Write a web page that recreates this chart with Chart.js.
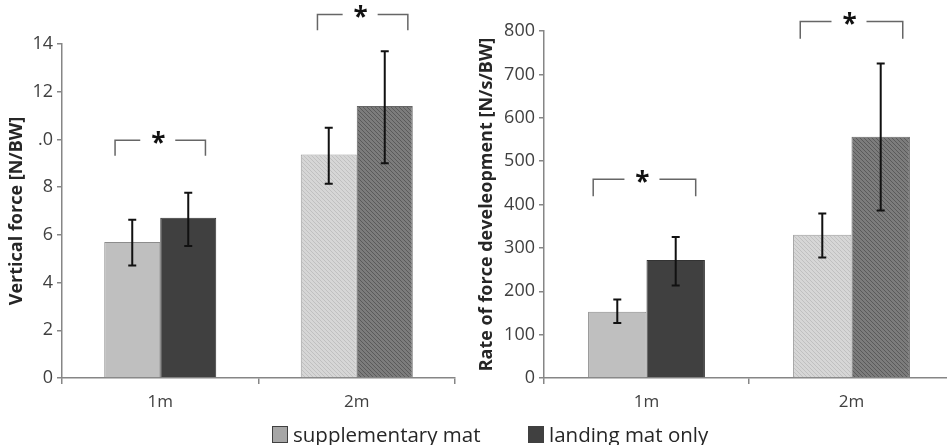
<!DOCTYPE html>
<html>
<head>
<meta charset="utf-8">
<script src="https://cdn.jsdelivr.net/npm/chart.js@4"></script>
<style>
  body { margin: 0; background: #fff; overflow: hidden; width: 947px; height: 445px; position: relative; font-family: "Open Sans", sans-serif; }
  .box { position: absolute; top: 0; height: 445px; }
  #leftBox { left: 0; width: 470px; }
  #rightBox { left: 470px; width: 500px; }
  .leg { position: absolute; top: 423px; display: flex; align-items: center; font-size: 20.5px; color: #262626; line-height: 22px; }
  .sw { width: 16px; height: 17px; border: 1px solid #404040; margin-right: 5px; box-sizing: border-box; }
</style>
</head>
<body>
<div class="box" id="leftBox"><canvas id="forceChart" width="470" height="445"></canvas></div>
<div class="box" id="rightBox"><canvas id="rfdChart" width="500" height="445"></canvas></div>
<div class="leg" style="left:272px"><div class="sw" style="background:#a6a6a6"></div>supplementary mat</div>
<div class="leg" style="left:528px"><div class="sw" style="background:#404040"></div>landing mat only</div>

<script>
const categories = ['1m', '2m'];
const seriesNames = ['supplementary mat', 'landing mat only'];

// vertical force [N/BW]
const forceSupp = [5.7, 9.37];
const forceSuppLow = [4.72, 8.14];
const forceSuppHigh = [6.63, 10.49];
const forceLanding = [6.72, 11.4];
const forceLandingLow = [5.53, 9.0];
const forceLandingHigh = [7.76, 13.7];
const forceTicks = ['0', '2', '4', '6', '8', '.0', '12', '14'];

// rate of force development [N/s/BW]
const rfdSupp = [153, 330];
const rfdSuppLow = [127, 278];
const rfdSuppHigh = [181, 379];
const rfdLanding = [272, 556];
const rfdLandingLow = [213, 386];
const rfdLandingHigh = [325, 725];
const rfdTicks = ['0', '100', '200', '300', '400', '500', '600', '700', '800'];

// significance brackets: category, span (fraction of category width), top and foot in data units
const forceBrackets = [
  { cat: 0, from: -0.23, to: 0.23, top: 9.97, foot: 9.32 },
  { cat: 1, from: -0.2, to: 0.26, top: 15.24, foot: 14.58 },
];
const rfdBrackets = [
  { cat: 0, from: -0.26, to: 0.24, top: 458, foot: 419 },
  { cat: 1, from: -0.25, to: 0.25, top: 822, foot: 782 },
];

const AXIS = '#868686';
const TEXT = '#404040';
const FONT = '"Open Sans"';

function hatch(base, line) {
  const c = document.createElement('canvas');
  c.width = 4; c.height = 4;
  const g = c.getContext('2d');
  g.fillStyle = base; g.fillRect(0, 0, 4, 4);
  g.fillStyle = line;
  for (let i = 0; i < 4; i++) g.fillRect(i, i, 1, 1);
  return g.createPattern(c, 'repeat');
}
const suppHatch = hatch('#d6d6d6', '#c0c0c0');
const landHatch = hatch('#7c7c7c', '#5a5a5a');

const errorBars = {
  id: 'errorBars',
  afterDatasetsDraw(chart, args, opts) {
    const { ctx, scales: { y } } = chart;
    ctx.save();
    ctx.strokeStyle = '#111';
    ctx.lineWidth = 2;
    chart.data.datasets.forEach((ds, di) => {
      chart.getDatasetMeta(di).data.forEach((bar, i) => {
        const lo = y.getPixelForValue(ds.low[i]);
        const hi = y.getPixelForValue(ds.high[i]);
        ctx.beginPath();
        ctx.moveTo(bar.x, lo); ctx.lineTo(bar.x, hi);
        ctx.moveTo(bar.x - 4, lo); ctx.lineTo(bar.x + 4, lo);
        ctx.moveTo(bar.x - 4, hi); ctx.lineTo(bar.x + 4, hi);
        ctx.stroke();
      });
    });
    ctx.restore();
  },
  afterDraw(chart, args, opts) {
    const { ctx, scales: { x, y } } = chart;
    const step = x.getPixelForValue(1) - x.getPixelForValue(0);
    ctx.save();
    (opts.brackets || []).forEach(b => {
      const cx = x.getPixelForValue(b.cat);
      const x1 = cx + b.from * step, x2 = cx + b.to * step;
      const top = y.getPixelForValue(b.top), foot = y.getPixelForValue(b.foot);
      const mid = (x1 + x2) / 2;
      ctx.strokeStyle = '#666';
      ctx.lineWidth = 1.5;
      ctx.beginPath();
      ctx.moveTo(x1, foot); ctx.lineTo(x1, top); ctx.lineTo(mid - 20, top);
      ctx.moveTo(mid + 15, top); ctx.lineTo(x2, top); ctx.lineTo(x2, foot);
      ctx.stroke();
      ctx.fillStyle = '#111';
      ctx.font = 'bold 26px ' + FONT;
      ctx.textAlign = 'center';
      ctx.textBaseline = 'middle';
      ctx.fillText('*', mid - 2, top + 4);
    });
    ctx.restore();
  }
};

function makeChart(id, supp, suppLo, suppHi, land, landLo, landHi, max, step, ticks, title, brackets, yWidth, padTop, padRight) {
  return new Chart(document.getElementById(id), {
    type: 'bar',
    data: {
      labels: categories,
      datasets: [
        { label: seriesNames[0], data: supp, low: suppLo, high: suppHi,
          backgroundColor: ['#bfbfbf', suppHatch], borderColor: ['#8c8c8c', '#9a9a9a'], borderWidth: 1,
          categoryPercentage: 0.57, barPercentage: 1 },
        { label: seriesNames[1], data: land, low: landLo, high: landHi,
          backgroundColor: ['#404040', landHatch], borderColor: ['#333', '#666'], borderWidth: 1,
          categoryPercentage: 0.57, barPercentage: 1 },
      ]
    },
    options: {
      responsive: false,
      animation: false,
      devicePixelRatio: 1,
      layout: { padding: { top: padTop, right: padRight, left: 0, bottom: 0 } },
      plugins: { legend: { display: false }, tooltip: { enabled: false }, errorBars: { brackets } },
      scales: {
        x: {
          grid: { offset: true, drawOnChartArea: false, drawTicks: true, tickLength: 6, color: AXIS, lineWidth: 1.5 },
          border: { color: AXIS, width: 1.5 },
          ticks: { color: TEXT, font: { family: FONT, size: 17 }, padding: 8 },
          afterFit: s => { s.height = 67; }
        },
        y: {
          min: 0, max: max,
          ticks: { stepSize: step, color: TEXT, font: { family: FONT, size: 18 }, padding: 4,
                   callback: (v, i) => ticks[i] },
          grid: { drawOnChartArea: false, tickLength: 5, color: AXIS, lineWidth: 1.5 },
          border: { color: AXIS, width: 1.5 },
          title: { display: true, text: title, color: '#262626', font: { family: FONT, size: 18, weight: 'bold' }, padding: { top: 6, bottom: 0 } },
          afterFit: s => { s.width = yWidth; }
        }
      }
    },
    plugins: [errorBars]
  });
}

makeChart('forceChart', forceSupp, forceSuppLow, forceSuppHigh, forceLanding, forceLandingLow, forceLandingHigh,
  14, 2, forceTicks, 'Vertical force [N/BW]', forceBrackets, 62, 44, 15);
makeChart('rfdChart', rfdSupp, rfdSuppLow, rfdSuppHigh, rfdLanding, rfdLandingLow, rfdLandingHigh,
  800, 100, rfdTicks, 'Rate of force develeopment [N/s/BW]', rfdBrackets, 74, 31, 16);
</script>
</body>
</html>
